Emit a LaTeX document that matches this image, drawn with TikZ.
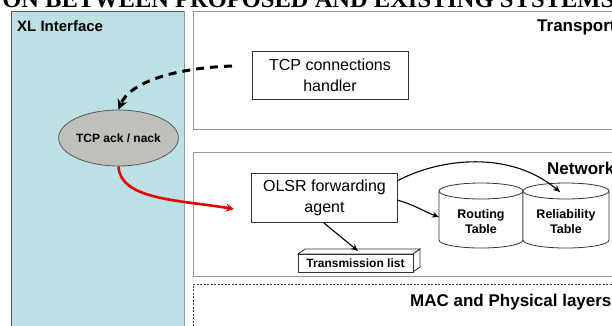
\documentclass[tikz,border=0pt]{standalone}
\usepackage{fontspec}
\setmainfont{Liberation Sans}
\newfontfamily\titlefont{Liberation Serif}
\usetikzlibrary{arrows.meta,shapes.geometric}
\definecolor{panel}{RGB}{188,225,228}
\definecolor{boxgray}{RGB}{150,150,150}
\definecolor{ellfill}{RGB}{192,192,186}
\definecolor{redarr}{RGB}{232,0,0}
\tikzset{
  layerbox/.style={draw=boxgray, line width=1pt, fill=white, anchor=north west, inner sep=0pt},
  layerlbl/.style={font=\fontsize{17}{19}\selectfont\bfseries, anchor=base west, inner sep=0pt},
  agentbox/.style={draw=black!80, line width=0.8pt, fill=white, align=center, inner sep=0pt,
    font=\fontsize{16}{21}\selectfont},
  smalllbl/.style={font=\fontsize{12.5}{15}\selectfont\bfseries, align=center, inner sep=0pt},
  cyl/.style={draw=black!80, line width=0.8pt, fill=white},
  thinarrow/.style={draw=black, line width=1.1pt, -{Stealth[length=7pt,width=6pt]}},
}
\begin{document}
\begin{tikzpicture}[x=1pt,y=-1pt]
\useasboundingbox (0,0) rectangle (612,325);
\clip (0,0) rectangle (612,325);
\fill[white] (0,0) rectangle (612,325);

% title fragment (cut off at the top)
\node[anchor=base west, inner sep=0pt, font=\titlefont\fontsize{24.5}{26}\selectfont\bfseries] (title) at (45,7.5)
  {\llap{ON }BETWEEN PROPOSED AND EXISTING SYSTEMS};

% XL interface panel
\fill[panel] (11,11) rectangle (184,330);
\draw[black!65, line width=1pt] (11,330) -- (11,11) -- (184,11);
\draw[black!40, line width=1pt] (184,11) -- (184,330);
\node[layerlbl, font=\fontsize{15}{18}\selectfont\bfseries] (xl) at (17,31) {XL Interface};

% layer boxes
\node[layerbox, minimum width=440pt, minimum height=118pt] (transport) at (193,11) {};
\node[layerlbl] (trl) at (537,31.5) {Transport};
\node[layerbox, minimum width=440pt, minimum height=124pt] (network) at (193,152) {};
\node[layerlbl] (netl) at (547,174) {Network};
\node[layerbox, draw=black!80, line width=0.8pt, dash pattern=on 2pt off 1.5pt, minimum width=440pt, minimum height=60pt] (mac) at (193,284) {};
\node[layerlbl] (macl) at (410,306) {MAC and Physical layers};

% TCP connections handler
\node[agentbox, minimum width=156pt, minimum height=48pt] (tcph) at (330,75) {TCP connections\\handler};

% TCP ack / nack
\node[ellipse, draw=black!65, line width=0.8pt, fill=ellfill, minimum width=99pt, minimum height=56pt, inner sep=0pt,
  font=\fontsize{12}{14}\selectfont\bfseries] (ack) at (118.5,138) {TCP ack / nack};

% OLSR forwarding agent
\node[agentbox, minimum width=146pt, minimum height=49pt] (olsr) at (324.5,198) {OLSR forwarding\\agent};

% Routing table cylinder
\draw[cyl] (439,191) -- (439,240) arc[start angle=180, end angle=360, x radius=42pt, y radius=8pt] -- (523,191);
\draw[cyl] (481,191) ellipse[x radius=42pt, y radius=8pt];
\node[smalllbl] (rt) at (481,222) {Routing\\Table};
% Reliability table cylinder
\draw[cyl] (523,191) -- (523,240) arc[start angle=180, end angle=360, x radius=43pt, y radius=8pt] -- (609,191);
\draw[cyl] (566,191) ellipse[x radius=43pt, y radius=8pt];
\node[smalllbl] (rel) at (566,222) {Reliability\\Table};

% Transmission list (3D box)
\draw[cyl] (298,254) -- (305,249) -- (420,249) -- (413,254) -- cycle;
\draw[cyl] (413,254) -- (420,249) -- (420,267) -- (413,272) -- cycle;
\node[draw=black!80, line width=0.8pt, fill=white, minimum width=115pt, minimum height=18pt, inner sep=0pt,
  font=\fontsize{12}{14}\selectfont\bfseries] (tlist) at (355.5,263) {Transmission list};

% connectors
\coordinate (relin) at (560,192);
\coordinate (rtin) at (439,217);
\coordinate (olsrA) at (397,181);
\coordinate (olsrB) at (397,200);
\coordinate (olsrC) at (324,223);
\coordinate (tlin) at (358,251);
\draw[thinarrow] (olsrA) .. controls (440,158) and (510,150) .. (relin);
\draw[thinarrow] (olsrB) .. controls (415,205) and (425,212) .. (rtin);
\draw[thinarrow] (olsrC) -- (tlin);

\coordinate (dstart) at (232,66);
\draw[black, line width=3pt, dash pattern=on 8pt off 6pt, -{Stealth[length=10pt,width=10pt]}]
  (dstart) .. controls (175,68) and (130,82) .. (ack.north);

\coordinate (redend) at (234,209);
\draw[redarr, line width=2.6pt, -{Stealth[length=8pt,width=8pt]}]
  (ack.south) .. controls (120,200) and (180,200) .. (redend);
\end{tikzpicture}
\end{document}
